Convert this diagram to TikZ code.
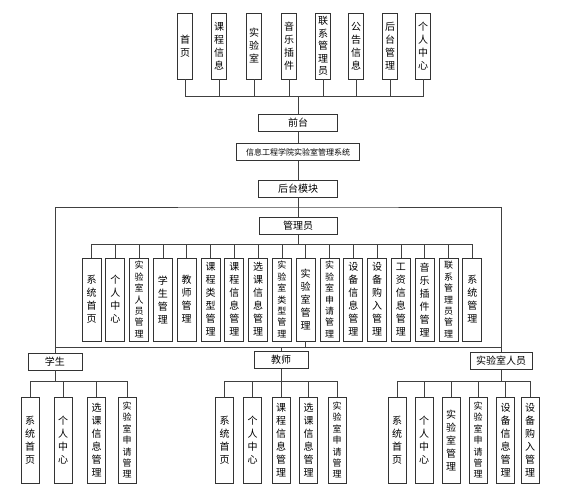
\documentclass[tikz,border=0pt]{standalone}
\usepackage{fontspec}
\newfontfamily\cjk{Noto Sans CJK SC}
\usepackage{tikz}

\begin{document}
\begin{tikzpicture}[x=1pt, y=-1pt,
  hbox/.style={draw=black!80, line width=0.8pt, inner sep=0pt, minimum height=17,
    font=\cjk\fontsize{10}{11}\selectfont},
  vbox/.style={draw=black!80, line width=0.8pt, inner sep=0pt, align=center,
    font=\cjk\fontsize{10}{13}\selectfont},
  topbox/.style={vbox, minimum width=15, minimum height=66},
  mbox/.style={vbox, minimum width=19, minimum height=83},
  leafbox/.style={vbox, minimum width=18, minimum height=86},
  longtxt/.style={font=\cjk\fontsize{9}{11.4}\selectfont},
  link/.style={draw=black!75, line width=0.8pt}]
  \useasboundingbox (0,0) rectangle (576,491);

  % Front pages
  \node[topbox] (t1) at (185,46) {首\\页};
  \node[topbox] (t2) at (219,46) {课\\程\\信\\息};
  \node[topbox] (t3) at (254,46) {实\\验\\室};
  \node[topbox] (t4) at (289,46) {音\\乐\\插\\件};
  \node[topbox, font=\cjk\fontsize{10}{12.4}\selectfont] (t5) at (323,46) {联\\系\\管\\理\\员};
  \node[topbox] (t6) at (356,46) {公\\告\\信\\息};
  \node[topbox] (t7) at (390,46) {后\\台\\管\\理};
  \node[topbox] (t8) at (423,46) {个\\人\\中\\心};

  % Middle column
  \node[hbox, minimum width=79] (front) at (298,123) {前台};
  \node[hbox, minimum width=123, font=\cjk\fontsize{8}{10}\selectfont] (title) at (298,152) {信息工程学院实验室管理系统};
  \node[hbox, minimum width=79] (back) at (298,188.5) {后台模块};
  \node[hbox, minimum width=78] (mgr) at (298,226) {管理员};

  % Admin functions
  \node[mbox] (m1) at (91.5,299.5) {系\\统\\首\\页};
  \node[mbox] (m2) at (115.3,299.5) {个\\人\\中\\心};
  \node[mbox, longtxt] (m3) at (139.1,299.5) {实\\验\\室\\人\\员\\管\\理};
  \node[mbox] (m4) at (162.9,299.5) {学\\生\\管\\理};
  \node[mbox] (m5) at (186.7,299.5) {教\\师\\管\\理};
  \node[mbox] (m6) at (210.5,299.5) {课\\程\\类\\型\\管\\理};
  \node[mbox] (m7) at (234.3,299.5) {课\\程\\信\\息\\管\\理};
  \node[mbox] (m8) at (258.1,299.5) {选\\课\\信\\息\\管\\理};
  \node[mbox, longtxt] (m9) at (281.9,299.5) {实\\验\\室\\类\\型\\管\\理};
  \node[mbox] (m10) at (305.7,299.5) {实\\验\\室\\管\\理};
  \node[mbox, longtxt] (m11) at (329.5,299.5) {实\\验\\室\\申\\请\\管\\理};
  \node[mbox] (m12) at (353.3,299.5) {设\\备\\信\\息\\管\\理};
  \node[mbox] (m13) at (377.1,299.5) {设\\备\\购\\入\\管\\理};
  \node[mbox] (m14) at (400.9,299.5) {工\\资\\信\\息\\管\\理};
  \node[mbox] (m15) at (424.7,299.5) {音\\乐\\插\\件\\管\\理};
  \node[mbox, longtxt] (m16) at (448.5,299.5) {联\\系\\管\\理\\员\\管\\理};
  \node[mbox] (m17) at (472.3,299.5) {系\\统\\管\\理};

  % Roles
  \node[hbox, minimum width=54] (stu) at (55,361.5) {学生};
  \node[hbox, minimum width=54] (tea) at (281,360) {教师};
  \node[hbox, minimum width=62] (lab) at (501,361) {实验室人员};

  % Student functions
  \node[leafbox] (s1) at (30,440) {系\\统\\首\\页};
  \node[leafbox] (s2) at (63,440) {个\\人\\中\\心};
  \node[leafbox] (s3) at (96.5,440) {选\\课\\信\\息\\管\\理};
  \node[leafbox, longtxt] (s4) at (127,440) {实\\验\\室\\申\\请\\管\\理};

  % Teacher functions
  \node[leafbox] (e1) at (224.5,440) {系\\统\\首\\页};
  \node[leafbox] (e2) at (252.5,440) {个\\人\\中\\心};
  \node[leafbox] (e3) at (281,440) {课\\程\\信\\息\\管\\理};
  \node[leafbox] (e4) at (308.5,440) {选\\课\\信\\息\\管\\理};
  \node[leafbox, longtxt] (e5) at (337,440) {实\\验\\室\\申\\请\\管\\理};

  % Lab staff functions
  \node[leafbox] (l1) at (397,440) {系\\统\\首\\页};
  \node[leafbox] (l2) at (424,440) {个\\人\\中\\心};
  \node[leafbox] (l3) at (451,440) {实\\验\\室\\管\\理};
  \node[leafbox, longtxt] (l4) at (478,440) {实\\验\\室\\申\\请\\管\\理};
  \node[leafbox] (l5) at (505.5,440) {设\\备\\信\\息\\管\\理};
  \node[leafbox] (l6) at (530,440) {设\\备\\购\\入\\管\\理};

  % Buses
  \coordinate (topbus) at (298,96);
  \coordinate (bigbus) at (298,207);
  \coordinate (mbus) at (298,244);
  \coordinate (lowbus) at (298,347);
  \coordinate (sbus) at (55,381);
  \coordinate (tbus) at (281,381);
  \coordinate (lbus) at (501,381);

  % Connectors
  \draw[link] (t1.south) |- (topbus) (t2.south) |- (topbus) (t3.south) |- (topbus)
    (t4.south) |- (topbus) (t5.south) |- (topbus) (t6.south) |- (topbus)
    (t7.south) |- (topbus) (t8.south) |- (topbus);
  \draw[link] (topbus) -- (front);
  \draw[link] (front) -- (title);
  \draw[link] (title) -- (back);
  \draw[link] (back) -- (mgr);
  \draw[link] (stu.north) |- (bigbus) -| (lab.north);
  \draw[link] (mgr) -- (mbus);
  \draw[link] (m1.north) |- (mbus) (m2.north) |- (mbus) (m3.north) |- (mbus)
    (m4.north) |- (mbus) (m5.north) |- (mbus) (m6.north) |- (mbus)
    (m7.north) |- (mbus) (m8.north) |- (mbus) (m9.north) |- (mbus)
    (m10.north) |- (mbus) (m11.north) |- (mbus) (m12.north) |- (mbus)
    (m13.north) |- (mbus) (m14.north) |- (mbus) (m15.north) |- (mbus)
    (m16.north) |- (mbus) (m17.north) |- (mbus);
  \draw[link] (stu.north |- lowbus) -- (lab.north |- lowbus);
  \draw[link] (m10.south) -- (m10.south |- lowbus);
  \draw[link] (tea.north) -- (tea.north |- lowbus);
  \draw[link] (stu) -- (sbus);
  \draw[link] (s1.north) |- (sbus) (s2.north) |- (sbus) (s3.north) |- (sbus)
    (s4.north) |- (sbus);
  \draw[link] (tea) -- (tbus);
  \draw[link] (e1.north) |- (tbus) (e2.north) |- (tbus) (e3.north) |- (tbus)
    (e4.north) |- (tbus) (e5.north) |- (tbus);
  \draw[link] (lab) -- (lbus);
  \draw[link] (l1.north) |- (lbus) (l2.north) |- (lbus) (l3.north) |- (lbus)
    (l4.north) |- (lbus) (l5.north) |- (lbus) (l6.north) |- (lbus);
\end{tikzpicture}
\end{document}
